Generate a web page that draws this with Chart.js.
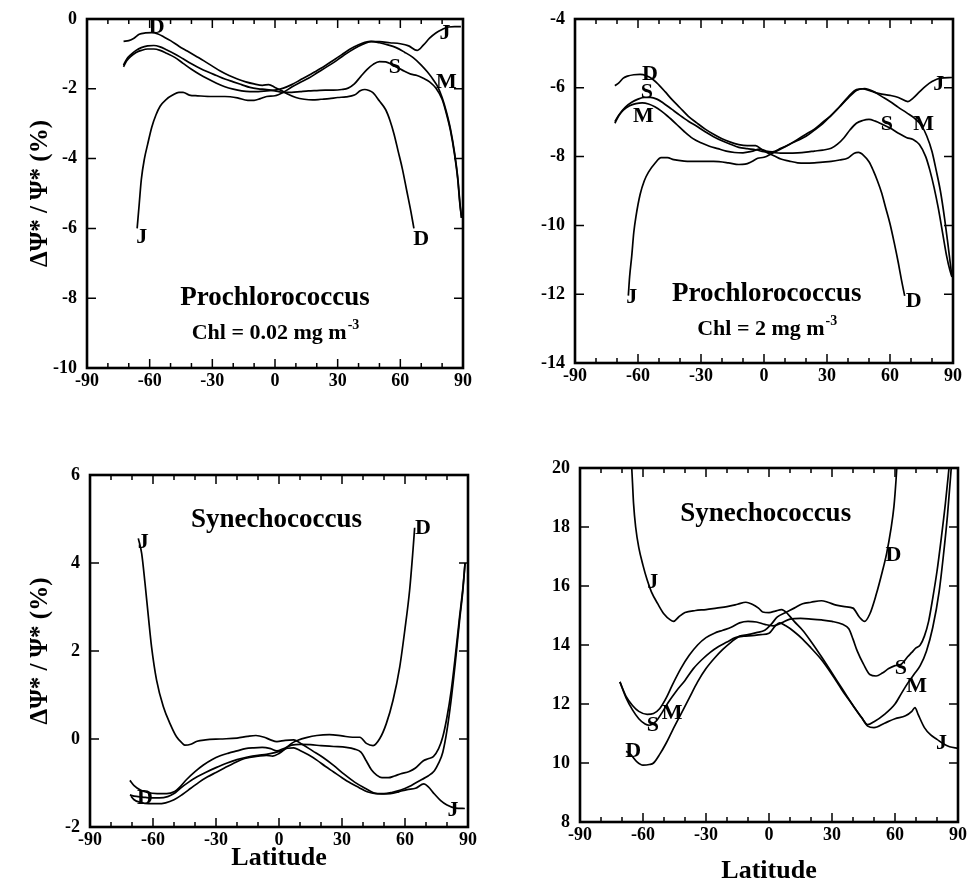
<!DOCTYPE html>
<html>
<head>
<meta charset="utf-8">
<script src="https://cdn.jsdelivr.net/npm/chart.js@4/dist/chart.umd.min.js"></script>
<style>
  html, body { margin: 0; padding: 0; background: #fff; }
  #wrap { position: relative; width: 971px; height: 890px; background: #fff; }
  canvas { position: absolute; }
</style>
</head>
<body>
<div id="wrap">
  <canvas id="c1"></canvas>
  <canvas id="c2"></canvas>
  <canvas id="c3"></canvas>
  <canvas id="c4"></canvas>
</div>
<script>
// ---------------- DATA (latitude, value) ----------------
const xTicks = [-90, -60, -30, 0, 30, 60, 90];

// Panel 1: Prochlorococcus, Chl = 0.02 mg m-3
const p1_J = [[-66,-6.0],[-65,-5.3],[-64,-4.6],[-62.5,-4.0],[-61,-3.6],[-59,-3.1],[-57,-2.75],[-55,-2.5],[-52,-2.3],[-49,-2.18],[-46,-2.1],[-44,-2.1],[-41,-2.18],[-37,-2.2],[-30,-2.22],[-24,-2.22],[-18,-2.26],[-13,-2.33],[-10,-2.33],[-7,-2.28],[-4,-2.22],[0,-2.2],[4,-2.1],[8,-1.95],[12,-1.82],[16,-1.7],[20,-1.55],[24,-1.4],[28,-1.25],[32,-1.08],[36,-0.92],[40,-0.78],[43,-0.7],[46,-0.65],[50,-0.65],[55,-0.68],[60,-0.71],[64,-0.77],[68,-0.9],[71,-0.75],[74,-0.55],[77,-0.4],[80,-0.3],[83,-0.23],[86,-0.22],[89,-0.22]];
const p1_D = [[-72.5,-0.64],[-70,-0.62],[-67.5,-0.55],[-65,-0.44],[-62,-0.4],[-59,-0.39],[-56,-0.43],[-53,-0.52],[-50,-0.62],[-46,-0.78],[-42,-0.92],[-38,-1.06],[-34,-1.2],[-30,-1.35],[-26,-1.5],[-22,-1.62],[-18,-1.72],[-14,-1.8],[-10,-1.86],[-6,-1.9],[-3,-1.88],[0,-1.96],[3,-2.05],[6,-2.15],[10,-2.25],[14,-2.3],[18,-2.32],[22,-2.3],[26,-2.28],[30,-2.25],[34,-2.23],[38,-2.18],[41,-2.05],[43,-2.02],[45,-2.05],[47,-2.12],[50,-2.35],[53,-2.6],[55,-2.9],[57,-3.3],[59,-3.8],[61,-4.3],[63,-4.9],[65,-5.5],[66.5,-6.0]];
const p1_S = [[-72.5,-1.32],[-71,-1.15],[-69,-1.02],[-66.5,-0.9],[-64,-0.82],[-61,-0.77],[-58,-0.76],[-55,-0.8],[-52,-0.88],[-48,-1.0],[-44,-1.14],[-40,-1.28],[-36,-1.41],[-32,-1.52],[-28,-1.62],[-24,-1.72],[-20,-1.8],[-16,-1.88],[-12,-1.96],[-8,-2.0],[-4,-2.02],[0,-2.06],[4,-2.1],[8,-2.1],[12,-2.08],[16,-2.06],[20,-2.05],[24,-2.04],[28,-2.04],[32,-2.02],[35,-1.98],[38,-1.86],[41,-1.65],[44,-1.45],[47,-1.3],[50,-1.22],[53,-1.23],[56,-1.3],[59,-1.4],[62,-1.5],[65,-1.58],[68,-1.62],[71,-1.7],[74,-1.8],[77,-1.98],[80,-2.3],[82,-2.7],[84,-3.2],[86,-3.9],[87.5,-4.6],[88.5,-5.3],[89.3,-5.7]];
const p1_M = [[-72.5,-1.37],[-71,-1.2],[-69,-1.07],[-66.5,-0.96],[-64,-0.9],[-61,-0.86],[-58,-0.86],[-55,-0.9],[-52,-0.98],[-48,-1.1],[-44,-1.27],[-40,-1.44],[-36,-1.59],[-32,-1.72],[-28,-1.84],[-24,-1.94],[-20,-2.01],[-16,-2.06],[-12,-2.08],[-8,-2.08],[-4,-2.06],[0,-2.04],[4,-1.98],[8,-1.88],[12,-1.75],[16,-1.62],[20,-1.48],[24,-1.34],[28,-1.18],[32,-1.02],[36,-0.86],[40,-0.74],[43,-0.67],[46,-0.64],[50,-0.68],[54,-0.74],[58,-0.82],[62,-0.95],[66,-1.1],[70,-1.32],[73,-1.52],[76,-1.76],[78,-1.95],[80,-2.25],[82,-2.65],[84,-3.15],[86,-3.85],[87.5,-4.55],[88.5,-5.25],[89.3,-5.7]];

// Panel 2: Prochlorococcus, Chl = 2 mg m-3
const p2_J = [[-64.6,-12.04],[-64,-11.5],[-63,-10.9],[-62,-10.2],[-61,-9.75],[-59,-9.1],[-57,-8.7],[-55,-8.45],[-52,-8.2],[-49,-8.03],[-46,-8.03],[-43,-8.09],[-38,-8.13],[-30,-8.14],[-24,-8.14],[-17,-8.18],[-12,-8.23],[-9,-8.22],[-6,-8.15],[-3,-8.05],[0,-8.02],[4,-7.9],[8,-7.78],[12,-7.65],[16,-7.5],[20,-7.35],[24,-7.2],[28,-7.0],[32,-6.8],[36,-6.55],[40,-6.27],[44,-6.05],[47,-6.03],[51,-6.1],[55,-6.17],[60,-6.22],[64,-6.28],[68.5,-6.4],[71,-6.3],[74,-6.12],[77,-5.95],[80,-5.82],[84,-5.72],[89.5,-5.7]];
const p2_D = [[-71,-5.94],[-69,-5.85],[-67,-5.72],[-65,-5.66],[-62,-5.62],[-59,-5.61],[-56,-5.65],[-53,-5.75],[-50,-5.92],[-47,-6.12],[-44,-6.33],[-40,-6.58],[-36,-6.83],[-32,-7.02],[-28,-7.2],[-24,-7.35],[-20,-7.48],[-16,-7.58],[-12,-7.65],[-8,-7.68],[-4,-7.68],[-1,-7.8],[2,-7.9],[5,-7.98],[8,-8.07],[12,-8.13],[16,-8.18],[20,-8.19],[24,-8.18],[28,-8.16],[32,-8.14],[36,-8.1],[40,-8.04],[43,-7.9],[45,-7.88],[47.5,-7.97],[50,-8.15],[52,-8.4],[54,-8.7],[56,-9.05],[58,-9.5],[60,-9.95],[62,-10.5],[64,-11.1],[65.5,-11.6],[67,-12.05]];
const p2_S = [[-71,-6.98],[-69,-6.78],[-66,-6.56],[-63,-6.42],[-60,-6.33],[-57,-6.28],[-54,-6.28],[-51,-6.33],[-48,-6.44],[-44,-6.62],[-40,-6.8],[-36,-6.97],[-32,-7.12],[-28,-7.28],[-24,-7.42],[-20,-7.54],[-16,-7.64],[-12,-7.73],[-8,-7.77],[-4,-7.8],[0,-7.86],[4,-7.88],[8,-7.9],[12,-7.9],[16,-7.89],[20,-7.87],[24,-7.84],[28,-7.81],[32,-7.76],[35,-7.64],[38,-7.46],[41,-7.22],[44,-7.03],[47,-6.95],[50,-6.92],[53,-6.97],[56,-7.05],[60,-7.17],[64,-7.32],[68,-7.45],[71,-7.5],[74,-7.65],[77,-8.0],[79,-8.4],[81,-8.9],[83,-9.5],[85,-10.2],[87,-10.9],[88.5,-11.3],[89.5,-11.5]];
const p2_M = [[-71,-7.03],[-69,-6.8],[-67,-6.65],[-64,-6.52],[-61,-6.46],[-58,-6.44],[-55,-6.47],[-52,-6.55],[-49,-6.67],[-46,-6.82],[-42,-7.04],[-38,-7.27],[-34,-7.47],[-30,-7.6],[-26,-7.7],[-22,-7.77],[-18,-7.84],[-14,-7.88],[-10,-7.89],[-6,-7.85],[-2,-7.78],[1,-7.84],[4,-7.86],[8,-7.76],[12,-7.65],[16,-7.53],[20,-7.41],[24,-7.23],[28,-7.04],[32,-6.8],[36,-6.55],[40,-6.3],[44,-6.08],[48,-6.02],[52,-6.1],[56,-6.25],[60,-6.4],[64,-6.57],[68,-6.73],[72,-6.9],[75,-7.1],[77.5,-7.4],[80,-7.85],[82,-8.4],[84,-9.0],[86,-9.8],[87.5,-10.5],[88.7,-11.1],[89.5,-11.5]];

// Panel 3: Synechococcus, low Chl
const p3_J = [[-67,4.56],[-65.4,4.22],[-63.8,3.54],[-62.2,2.78],[-60.7,2.1],[-58.3,1.34],[-55.1,0.74],[-51.9,0.35],[-48.8,0.05],[-46,-0.1],[-44.8,-0.14],[-42,-0.12],[-39,-0.05],[-35,-0.02],[-28,0.0],[-20,0.02],[-15,0.06],[-11,0.08],[-7,0.04],[-4,-0.02],[-1,-0.06],[3,-0.03],[7,-0.02],[11,-0.12],[16,-0.27],[21,-0.42],[26,-0.6],[31,-0.8],[36,-0.98],[41,-1.12],[45,-1.22],[49,-1.25],[53,-1.24],[57,-1.2],[61,-1.15],[65,-1.12],[69,-1.02],[71,-1.08],[74,-1.25],[77,-1.4],[80,-1.5],[84,-1.57],[88.5,-1.58]];
const p3_D = [[-70.5,-1.3],[-69,-1.38],[-66,-1.44],[-62,-1.47],[-58,-1.47],[-54,-1.45],[-50,-1.38],[-46,-1.26],[-42,-1.12],[-38,-0.98],[-34,-0.86],[-30,-0.76],[-26,-0.66],[-22,-0.56],[-18,-0.47],[-14,-0.42],[-10,-0.39],[-6,-0.37],[-3,-0.39],[0,-0.33],[3,-0.22],[6,-0.1],[9,-0.03],[13,0.03],[18,0.08],[24,0.1],[30,0.07],[35,0.04],[38.5,0.04],[41.6,-0.1],[44.8,-0.15],[48,0.01],[51.1,0.35],[54.3,0.88],[57.5,1.64],[59.9,2.47],[62.2,3.38],[63.8,4.29],[64.6,4.8]];
const p3_S = [[-71,-0.94],[-69,-1.06],[-66,-1.16],[-63,-1.21],[-58,-1.24],[-53.5,-1.24],[-50,-1.2],[-47,-1.08],[-44,-0.92],[-40,-0.74],[-36,-0.59],[-32,-0.47],[-28,-0.38],[-24,-0.32],[-20,-0.27],[-16,-0.22],[-12,-0.2],[-8,-0.19],[-4,-0.22],[-1,-0.27],[2,-0.22],[6,-0.14],[10,-0.12],[15,-0.13],[20,-0.15],[26,-0.17],[32,-0.19],[36,-0.23],[39,-0.3],[41.6,-0.5],[44,-0.7],[46.5,-0.82],[49,-0.88],[52,-0.88],[55,-0.84],[58,-0.79],[62,-0.74],[65,-0.66],[68.6,-0.5],[71,-0.45],[73.5,-0.4],[76,-0.22],[78,0.05],[80,0.5],[82,1.1],[84,1.9],[86,2.78],[87.5,3.4],[88.6,4.0]];
const p3_M = [[-71,-1.27],[-69,-1.3],[-65,-1.32],[-61,-1.34],[-57,-1.34],[-53,-1.31],[-50,-1.24],[-47,-1.12],[-43,-0.98],[-39,-0.86],[-35,-0.76],[-30,-0.65],[-25,-0.55],[-20,-0.47],[-15,-0.41],[-10,-0.37],[-6,-0.35],[-2,-0.31],[1,-0.27],[4,-0.21],[7,-0.2],[10,-0.26],[14,-0.36],[18,-0.48],[22,-0.62],[26,-0.75],[30,-0.88],[34,-1.0],[38,-1.1],[42,-1.2],[46,-1.24],[50,-1.24],[54,-1.21],[58,-1.16],[62,-1.08],[65,-1.0],[68,-0.92],[71,-0.84],[74,-0.72],[76,-0.55],[78,-0.3],[80,0.2],[82,0.9],[84,1.75],[86,2.7],[87.5,3.35],[88.6,4.0]];

// Panel 4: Synechococcus, high Chl
const p4_J = [[-65.5,20.2],[-65,19.5],[-64.5,18.8],[-63.5,18.0],[-62,17.3],[-60,16.7],[-58,16.2],[-56,15.8],[-53,15.4],[-50,15.05],[-47,14.85],[-45.5,14.8],[-43,14.95],[-40,15.1],[-35,15.17],[-30,15.2],[-25,15.25],[-20,15.3],[-15,15.38],[-11,15.45],[-8,15.38],[-5,15.25],[-3,15.12],[0,15.1],[3,15.15],[6,15.2],[9,15.05],[12,14.8],[16,14.5],[20,14.12],[25,13.6],[30,13.05],[35,12.5],[40,11.95],[44,11.55],[47,11.25],[50,11.2],[55,11.35],[60,11.5],[65,11.6],[68,11.75],[69.5,11.88],[71,11.65],[74,11.2],[77,10.95],[80,10.8],[83,10.65],[86,10.55],[90,10.5]];
const p4_D = [[-68,10.4],[-66,10.3],[-63,10.05],[-60,9.93],[-57,9.95],[-55,10.0],[-52,10.3],[-49,10.67],[-46,11.1],[-42,11.65],[-38,12.2],[-34,12.75],[-30,13.2],[-26,13.55],[-22,13.85],[-18,14.1],[-14,14.3],[-10,14.35],[-6,14.42],[-2,14.5],[1,14.7],[4,14.95],[8,15.1],[12,15.25],[16,15.4],[20,15.45],[25,15.5],[28,15.45],[32,15.35],[36,15.3],[40,15.25],[43,14.95],[45.5,14.8],[48,15.05],[51,15.7],[54,16.5],[56,17.1],[58,17.9],[59.5,18.7],[60.5,19.6],[61,20.2]];
const p4_S = [[-71,12.75],[-68,12.25],[-65,11.95],[-62,11.75],[-58,11.65],[-55,11.68],[-52,11.85],[-49,12.2],[-46,12.65],[-42,13.2],[-38,13.65],[-34,14.0],[-30,14.25],[-26,14.4],[-22,14.5],[-18,14.6],[-14,14.75],[-10,14.8],[-6,14.78],[-2,14.7],[2,14.65],[6,14.75],[10,14.88],[15,14.9],[20,14.88],[25,14.85],[30,14.8],[35,14.7],[38,14.55],[40,14.2],[42,13.8],[45,13.35],[48,13.0],[51,12.95],[54,13.05],[57,13.2],[60,13.3],[63,13.35],[66,13.6],[68,13.75],[70,13.9],[72,14.0],[74,14.3],[76,14.8],[78,15.6],[80,16.5],[82,17.6],[84,18.8],[86,20.2]];
const p4_M = [[-71,12.75],[-68,12.2],[-65,11.8],[-62,11.5],[-59,11.32],[-57,11.28],[-54,11.4],[-51,11.7],[-48,12.05],[-44,12.45],[-40,12.8],[-36,13.2],[-32,13.5],[-28,13.75],[-24,13.95],[-20,14.1],[-16,14.25],[-12,14.3],[-8,14.32],[-4,14.35],[0,14.4],[3,14.65],[5,14.75],[8,14.65],[12,14.45],[16,14.2],[20,13.9],[25,13.5],[30,13.0],[35,12.45],[40,11.95],[44,11.55],[47,11.3],[50,11.4],[55,11.65],[60,12.0],[63,12.35],[66,12.7],[69,13.0],[72,13.3],[75,13.8],[78,14.6],[81,15.8],[83,17.0],[85,18.4],[87,20.2]];

// y-axis tick labels per panel
const p1_yTicks = [0, -2, -4, -6, -8, -10];
const p2_yTicks = [-4, -6, -8, -10, -12, -14];
const p3_yTicks = [6, 4, 2, 0, -2];
const p4_yTicks = [20, 18, 16, 14, 12, 10, 8];

// text annotations: [text, latitude, value, size, superscript]
const p1_text = [["D",-56.6,-0.25,22],["J",81.4,-0.42,22],["S",57.4,-1.37,22],["M",82,-1.82,22],["J",-63.8,-6.26,22],["D",70,-6.3,22],["Prochlorococcus",0,-8.0,27],["Chl = 0.02 mg m",0,-9.0,22,"-3"]];
const p2_text = [["D",-54.3,-5.6,22],["S",-55.8,-6.13,22],["M",-57.4,-6.84,22],["J",83.2,-5.9,22],["S",58.5,-7.07,22],["M",76,-7.07,22],["J",-63,-12.1,22],["D",71.3,-12.2,22],["Prochlorococcus",1.3,-12.0,27],["Chl = 2 mg m",1.3,-13.03,22,"-3"]];
const p3_text = [["Synechococcus",-1.2,4.98,27],["J",-64.6,4.48,22],["D",68.6,4.79,22],["D",-63.8,-1.35,22],["J",82.9,-1.62,22]];
const p4_text = [["Synechococcus",-1.6,18.44,27],["J",-55.3,16.12,22],["D",59.2,17.03,22],["S",62.8,13.2,22],["M",70.3,12.6,22],["S",-55.3,11.29,22],["M",-46.1,11.69,22],["D",-64.7,10.38,22],["J",82.1,10.67,22]];

// ---------------- RENDERING ----------------
const FONT = '"Liberation Serif", "Times New Roman", serif';

const framePlugin = {
  id: 'frame',
  afterDraw(chart) {
    const { ctx, chartArea: { left, right, top, bottom }, scales: { x, y } } = chart;
    ctx.save();
    ctx.strokeStyle = '#000';
    ctx.lineWidth = 1.5;
    ctx.beginPath();
    for (let v = -80; v <= 80; v += 10) {
      const px = x.getPixelForValue(v);
      const len = (v % 30 === 0) ? 9 : 5;
      ctx.moveTo(px, bottom); ctx.lineTo(px, bottom - len);
      ctx.moveTo(px, top); ctx.lineTo(px, top + len);
    }
    y.ticks.forEach(t => {
      const py = y.getPixelForValue(t.value);
      ctx.moveTo(left, py); ctx.lineTo(left + 9, py);
      ctx.moveTo(right, py); ctx.lineTo(right - 9, py);
    });
    ctx.stroke();
    ctx.lineWidth = 2.6;
    ctx.strokeRect(left, top, right - left, bottom - top);
    ctx.restore();
  }
};

const textPlugin = {
  id: 'annot',
  afterDatasetsDraw(chart, args, opts) {
    const { ctx, scales: { x, y } } = chart;
    ctx.save();
    ctx.fillStyle = '#000';
    ctx.textBaseline = 'middle';
    (opts.items || []).forEach(([txt, lat, val, size, sup]) => {
      const px = x.getPixelForValue(lat);
      const py = y.getPixelForValue(val);
      ctx.font = `bold ${size}px ${FONT}`;
      if (!sup) {
        ctx.textAlign = 'center';
        ctx.fillText(txt, px, py);
      } else {
        const w1 = ctx.measureText(txt).width;
        const supSize = Math.round(size * 0.62);
        ctx.font = `bold ${supSize}px ${FONT}`;
        const w2 = ctx.measureText(sup).width;
        const x0 = px - (w1 + w2) / 2;
        ctx.textAlign = 'left';
        ctx.font = `bold ${size}px ${FONT}`;
        ctx.fillText(txt, x0, py);
        ctx.font = `bold ${supSize}px ${FONT}`;
        ctx.fillText(sup, x0 + w1 + 1, py - size * 0.36);
      }
    });
    ctx.restore();
  }
};

const panels = [
  { id: 'c1', left: 0, top: 0, w: 485, h: 400, pad: { top: 17, right: 22, bottom: 0, left: 0 }, yW: 87, xH: 32,
    yTicks: p1_yTicks, series: [['J', p1_J], ['D', p1_D], ['S', p1_S], ['M', p1_M]], text: p1_text, yTitle: true, xTitle: false },
  { id: 'c2', left: 490, top: 0, w: 481, h: 400, pad: { top: 10, right: 18, bottom: 0, left: 0 }, yW: 85, xH: 37,
    yTicks: p2_yTicks, series: [['J', p2_J], ['D', p2_D], ['S', p2_S], ['M', p2_M]], text: p2_text, yTitle: false, xTitle: false },
  { id: 'c3', left: 0, top: 440, w: 485, h: 450, pad: { top: 35, right: 17, bottom: 0, left: 0 }, yW: 90, xH: 63,
    yTicks: p3_yTicks, series: [['J', p3_J], ['D', p3_D], ['S', p3_S], ['M', p3_M]], text: p3_text, yTitle: true, xTitle: true, xTitlePad: 16 },
  { id: 'c4', left: 490, top: 440, w: 481, h: 450, pad: { top: 28, right: 11, bottom: 0, left: 0 }, yW: 90, xH: 68,
    yTicks: p4_yTicks, series: [['J', p4_J], ['D', p4_D], ['S', p4_S], ['M', p4_M]], text: p4_text, yTitle: false, xTitle: true, xTitlePad: 3 }
];

panels.forEach(p => {
  const cv = document.getElementById(p.id);
  cv.width = p.w; cv.height = p.h;
  cv.style.left = p.left + 'px'; cv.style.top = p.top + 'px';
  cv.style.width = p.w + 'px'; cv.style.height = p.h + 'px';
  const ymin = Math.min(...p.yTicks), ymax = Math.max(...p.yTicks);
  new Chart(cv.getContext('2d'), {
    type: 'line',
    data: {
      datasets: p.series.map(([name, pts]) => ({
        label: name,
        data: pts.map(([lat, v]) => ({ x: lat, y: v })),
        borderColor: '#000',
        borderWidth: 1.7,
        pointRadius: 0,
        fill: false,
        tension: 0.4,
        cubicInterpolationMode: 'monotone'
      }))
    },
    options: {
      animation: false,
      responsive: false,
      devicePixelRatio: 1,
      layout: { padding: p.pad },
      plugins: { legend: { display: false }, tooltip: { enabled: false }, annot: { items: p.text } },
      scales: {
        x: {
          type: 'linear', min: -90, max: 90,
          afterBuildTicks: s => { s.ticks = xTicks.map(v => ({ value: v })); },
          ticks: { autoSkip: false, maxRotation: 0, padding: 4, color: '#000',
                   font: { family: FONT, size: 18, weight: 'bold', lineHeight: 1 },
                   callback: v => String(v) },
          grid: { display: false, drawTicks: false },
          border: { display: false },
          title: { display: p.xTitle, text: 'Latitude', color: '#000',
                   font: { family: FONT, size: 26, weight: 'bold' }, padding: { top: 0, bottom: p.xTitlePad || 0 } },
          afterFit: s => { s.height = p.xH; }
        },
        y: {
          type: 'linear', min: ymin, max: ymax,
          afterBuildTicks: s => { s.ticks = p.yTicks.slice().sort((a, b) => a - b).map(v => ({ value: v })); },
          ticks: { autoSkip: false, padding: 10, color: '#000',
                   font: { family: FONT, size: 18, weight: 'bold', lineHeight: 1 },
                   callback: v => String(v) },
          grid: { display: false, drawTicks: false },
          border: { display: false },
          title: { display: p.yTitle, text: 'ΔΨ* / Ψ* (%)', color: '#000',
                   font: { family: FONT, size: 25, weight: 'bold' }, padding: { top: 26, bottom: 0 } },
          afterFit: s => { s.width = p.yW; }
        }
      }
    },
    plugins: [framePlugin, textPlugin]
  });
});
</script>
</body>
</html>
